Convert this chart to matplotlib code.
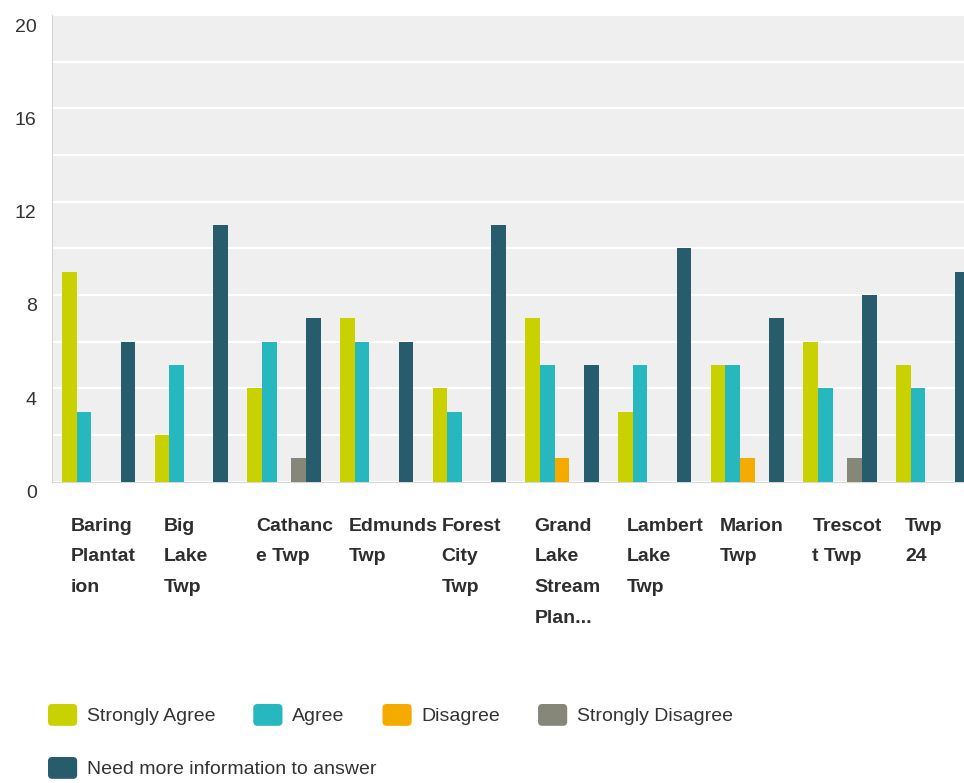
import matplotlib
matplotlib.use('Agg')
import matplotlib.pyplot as plt
import matplotlib.transforms as mtransforms
from matplotlib.patches import Patch, FancyBboxPatch
from matplotlib.legend_handler import HandlerPatch
import numpy as np

plt.rcParams['font.family'] = ['Liberation Sans', 'DejaVu Sans']

# data
towns = ['Baring\nPlantat\nion', 'Big\nLake\nTwp', 'Cathanc\ne Twp', 'Edmunds\nTwp',
         'Forest\nCity\nTwp', 'Grand\nLake\nStream\nPlan...', 'Lambert\nLake\nTwp',
         'Marion\nTwp', 'Trescot\nt Twp', 'Twp\n24']
series = ['Strongly Agree', 'Agree', 'Disagree', 'Strongly Disagree',
          'Need more information to answer']
strongly_agree = [9, 2, 4, 7, 4, 7, 3, 5, 6, 5]
agree = [3, 5, 6, 6, 3, 5, 5, 5, 4, 4]
disagree = [0, 0, 0, 0, 0, 1, 0, 1, 0, 0]
strongly_disagree = [0, 0, 1, 0, 0, 0, 0, 0, 1, 0]
need_info = [6, 11, 7, 6, 11, 5, 10, 7, 8, 9]
yticks = [0, 4, 8, 12, 16, 20]

colors = ['#c9d200', '#27b8bf', '#f5aa00', '#878779', '#265c6c']
values = [strongly_agree, agree, disagree, strongly_disagree, need_info]

fig = plt.figure(figsize=(9.64, 7.83), dpi=100)
ax = fig.add_axes([52 / 964, 301.4 / 783, 912 / 964, 466.6 / 783])
ax.set_facecolor('#efefef')

x = np.arange(len(towns))
bw = 14.67 / 92.67
for j, (vals, col) in enumerate(zip(values, colors)):
    ax.bar(x + j * bw, vals, width=bw, align='edge', color=col, label=series[j], zorder=3)

ax.set_xlim(-10 / 92.67, (964 - 62) / 92.67)
ax.set_ylim(0, 20)
ax.set_yticks(yticks)
ax.set_yticks(np.arange(0, 21, 2), minor=True)
ax.grid(which='both', axis='y', color='white', linewidth=1.6, zorder=1)
ax.tick_params(axis='y', which='both', length=0, pad=11, labelsize=14, labelcolor='#333333')
offset = mtransforms.ScaledTranslation(0, -10 / 100, fig.dpi_scale_trans)
for lbl in ax.get_yticklabels():
    lbl.set_transform(lbl.get_transform() + offset)

ax.set_xticks(x + 9 / 92.67)
ax.set_xticklabels(towns, ha='left', va='top', fontweight='bold', fontsize=14,
                   color='#2e2e2e', linespacing=2.05)
ax.tick_params(axis='x', length=0, pad=26)

for s in ['top', 'right']:
    ax.spines[s].set_visible(False)
ax.spines['left'].set_color('#d6d6d6')
ax.spines['bottom'].set_color('#d6d6d6')


def rounded(legend, orig_handle, xdescent, ydescent, width, height, fontsize):
    return FancyBboxPatch((-xdescent, -ydescent), width, height,
                          boxstyle='round,pad=0,rounding_size=3')


handles = [Patch(facecolor=c, edgecolor='none') for c in colors]
hmap = {h: HandlerPatch(patch_func=rounded) for h in handles}
leg_kw = dict(frameon=False, fontsize=14, handlelength=1.5, handleheight=1.35,
              handletextpad=0.5, columnspacing=1.95, borderpad=0, borderaxespad=0,
              labelcolor='#333333', handler_map=hmap, loc='upper left')
leg1 = fig.legend(handles[:4], series[:4], ncol=4,
                  bbox_to_anchor=(48 / 964, 1 - 704 / 783), **leg_kw)
leg2 = fig.legend(handles[4:], series[4:], ncol=1,
                  bbox_to_anchor=(48 / 964, 1 - 757 / 783), **leg_kw)

plt.savefig('out.png', dpi=100)
